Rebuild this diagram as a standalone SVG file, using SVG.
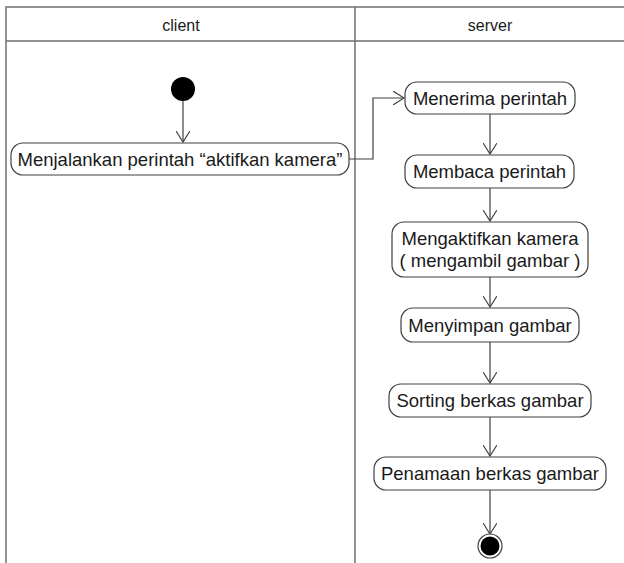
<svg xmlns="http://www.w3.org/2000/svg" width="624" height="563" viewBox="0 0 624 563">
<style>
.lane{fill:none;stroke:#707070;stroke-width:1.5}
.act rect{fill:#fff;stroke:#404040;stroke-width:1.2}
.act text{font-family:"Liberation Sans",Arial,sans-serif;font-size:18.5px;fill:#1a1a1a;text-anchor:middle}
.hdr{font-family:"Liberation Sans",Arial,sans-serif;font-size:16px;fill:#1a1a1a;text-anchor:middle}
.edge{fill:none;stroke:#404040;stroke-width:1.2}
</style>
<defs>
<marker id="arr" viewBox="0 0 12 14" refX="11" refY="7" markerWidth="12" markerHeight="14" markerUnits="userSpaceOnUse" orient="auto">
<path d="M0,0 L11,7 L0,14" fill="none" stroke="#404040" stroke-width="1.2"/>
</marker>
</defs>
<rect width="624" height="563" fill="#fff"/>
<g id="lanes">
<path class="lane" d="M6,563 V7 H624 M6,41 H624 M355,7 V563"/>
<text class="hdr" x="181" y="31">client</text>
<text class="hdr" x="490" y="31">server</text>
</g>
<g id="connectors">
<path class="edge" d="M183,101 V142" marker-end="url(#arr)"/>
<path class="edge" d="M349,159 H373 V98 H404" marker-end="url(#arr)"/>
<path class="edge" d="M490,114 V154" marker-end="url(#arr)"/>
<path class="edge" d="M490,188 V221" marker-end="url(#arr)"/>
<path class="edge" d="M490,277 V307" marker-end="url(#arr)"/>
<path class="edge" d="M490,342 V383" marker-end="url(#arr)"/>
<path class="edge" d="M490,417 V456" marker-end="url(#arr)"/>
<path class="edge" d="M490,490 V534" marker-end="url(#arr)"/>
</g>
<g id="start"><circle cx="183" cy="89" r="12" fill="#000"/></g>
<g id="a1" class="act"><rect x="11" y="143" width="338" height="32" rx="12"/><text x="180" y="165.5">Menjalankan perintah “aktifkan kamera”</text></g>
<g id="a2" class="act"><rect x="405" y="82" width="170" height="32" rx="12"/><text x="490" y="104.5">Menerima perintah</text></g>
<g id="a3" class="act"><rect x="405" y="155" width="169" height="33" rx="12"/><text x="489.5" y="178">Membaca perintah</text></g>
<g id="a4" class="act"><rect x="392" y="222" width="196" height="55" rx="12"/><text x="490" y="245">Mengaktifkan kamera</text><text x="490" y="267">( mengambil gambar )</text></g>
<g id="a5" class="act"><rect x="401" y="308" width="178" height="34" rx="12"/><text x="490" y="331.5">Menyimpan gambar</text></g>
<g id="a6" class="act"><rect x="389" y="384" width="202" height="33" rx="12"/><text x="490" y="407">Sorting berkas gambar</text></g>
<g id="a7" class="act"><rect x="374" y="457" width="232" height="33" rx="12"/><text x="490" y="480">Penamaan berkas gambar</text></g>
<g id="end"><circle cx="490" cy="546" r="12" fill="#fff" stroke="#404040" stroke-width="1.2"/><circle cx="490" cy="546" r="9.5" fill="#000"/></g>
</svg>
